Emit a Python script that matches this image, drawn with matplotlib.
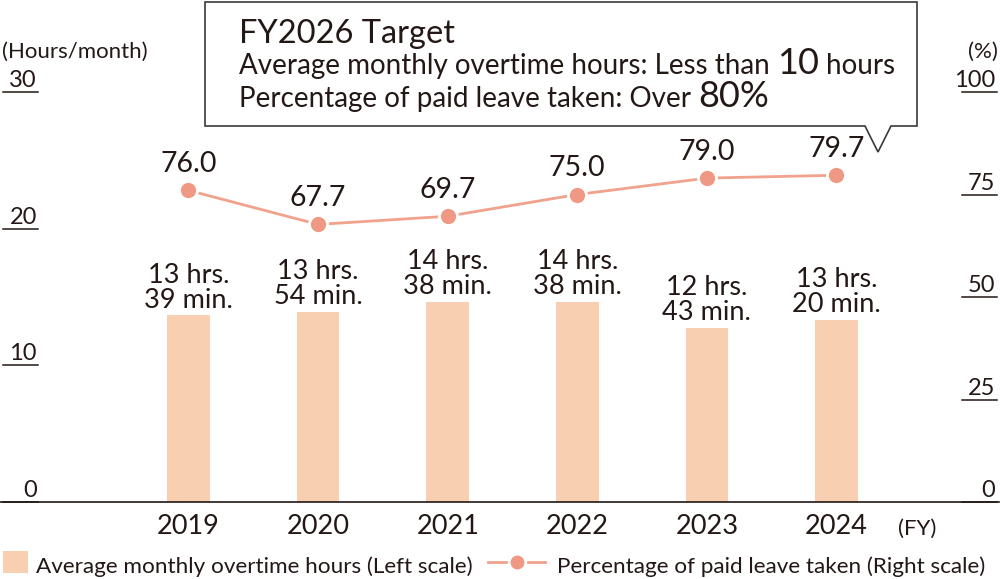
import matplotlib
matplotlib.use("Agg")
import matplotlib.pyplot as plt
from matplotlib.patches import Polygon, Rectangle
from matplotlib.lines import Line2D

plt.rcParams["font.family"] = ["Lato", "DejaVu Sans"]

years = ["2019", "2020", "2021", "2022", "2023", "2024"]
ot_hours = [13, 13, 14, 14, 12, 13]
ot_minutes = [39, 54, 38, 38, 43, 20]
leave_pct = [76.0, 67.7, 69.7, 75.0, 79.0, 79.7]
left_ticks = [0, 10, 20, 30]
right_ticks = [0, 25, 50, 75, 100]

ink = "#231815"
bar_color = "#F8CFB0"
line_color = "#F0A28C"
dot_color = "#EF9883"

W, H = 1000, 579
fig = plt.figure(figsize=(W / 100, H / 100), dpi=100)


def fx(px):
    return px / W


def fy(py):
    return 1 - py / H


ax = fig.add_axes([0, fy(502), 0.999, (502 - 92) / H])
ax2 = ax.twinx()

x = list(range(len(years)))
ot_values = [h + m / 60 for h, m in zip(ot_hours, ot_minutes)]

ax.bar(x, ot_values, width=0.33, color=bar_color, zorder=2)
for xi, v, h, m in zip(x, ot_values, ot_hours, ot_minutes):
    ax.annotate(f"{h} hrs.\n{m} min.", (xi, v), xytext=(0, 2), textcoords="offset points",
                ha="center", va="bottom", fontsize=19.5, color=ink, linespacing=1.0)

ax2.plot(x, leave_pct, color=line_color, lw=2, marker="o", ms=13,
         mfc=dot_color, mec="white", mew=2, zorder=3)
for xi, p in zip(x, leave_pct):
    ax2.annotate(f"{p:.1f}", (xi, p), xytext=(0, 13), textcoords="offset points",
                 ha="center", va="baseline", fontsize=20.5, color=ink)

ax.set_xlim(-188.5 / 129.6, (999 - 188.5) / 129.6)
ax.set_ylim(0, 30)
ax2.set_ylim(0, 100)

for a in (ax, ax2):
    for s in a.spines.values():
        s.set_visible(False)
    a.set_yticks([])
    a.patch.set_visible(False)
ax.spines["bottom"].set_visible(True)
ax.spines["bottom"].set_color(ink)
ax.spines["bottom"].set_linewidth(1.2)

ax.set_xticks(x, years)
ax.tick_params(axis="x", length=0, pad=9, labelsize=19.5, labelcolor=ink)

# left scale: label sits just above a short rule
ltr = ax.get_yaxis_transform()
for t in left_ticks:
    ax.annotate(str(t), (37 / 999, t), xycoords=ltr, xytext=(0, 3.6),
                textcoords="offset points", ha="right", va="baseline",
                fontsize=17, color=ink)
    ax.plot([3 / 999, 38 / 999], [t, t], transform=ltr, color=ink, lw=1.1, clip_on=False)

# right scale
rtr = ax2.get_yaxis_transform()
for t in right_ticks:
    ax2.annotate(str(t), (995 / 999, t), xycoords=rtr, xytext=(0, 3.6),
                 textcoords="offset points", ha="right", va="baseline",
                 fontsize=17, color=ink)
    ax2.plot([962 / 999, 997 / 999], [t, t], transform=rtr, color=ink, lw=1.1, clip_on=False)

fig.text(fx(2), fy(58), "(Hours/month)", fontsize=16, color=ink, va="baseline", ha="left")
fig.text(fx(998), fy(58), "(%)", fontsize=16, color=ink, va="baseline", ha="right")
fig.text(fx(936), fy(535), "(FY)", fontsize=16, color=ink, va="baseline", ha="right")

# callout box
pts = [(205, 2), (917, 2), (917, 126), (891, 126), (878, 152), (865, 126), (205, 126)]
fig.add_artist(Polygon([(fx(px), fy(py)) for px, py in pts], closed=True,
                       transform=fig.transFigure, facecolor="white", edgecolor="#3a3a3a",
                       lw=1.2, zorder=5))

renderer = fig.canvas.get_renderer()


def run(parts, px, py):
    for s, size, gap in parts:
        t = fig.text(fx(px), fy(py), s, fontsize=size, color=ink, va="baseline",
                     ha="left", zorder=6)
        bb = t.get_window_extent(renderer)
        px = bb.x1 + gap


run([("FY2026 Target", 23.5, 0)], 239, 43)
run([("Average monthly overtime hours: Less than", 20, 7), ("10", 26, 7), ("hours", 20, 0)], 239, 74)
run([("Percentage of paid leave taken: Over", 20, 7), ("80%", 26, 0)], 239, 107)

# legend
fig.add_artist(Rectangle((fx(3), fy(573)), fx(25), 22 / H, transform=fig.transFigure,
                         facecolor=bar_color, edgecolor="none"))
fig.text(fx(36), fy(573), "Average monthly overtime hours (Left scale)", fontsize=16.2,
         color=ink, va="baseline", ha="left")
fig.add_artist(Line2D([fx(488), fx(545)], [fy(562), fy(562)], transform=fig.transFigure,
                      color=line_color, lw=2))
fig.add_artist(Line2D([fx(516.5)], [fy(562)], transform=fig.transFigure, marker="o", ms=12,
                      mfc=dot_color, mec="white", mew=2))
fig.text(fx(557), fy(573), "Percentage of paid leave taken (Right scale)", fontsize=16.2,
         color=ink, va="baseline", ha="left")

fig.savefig("out.png", dpi=100)
